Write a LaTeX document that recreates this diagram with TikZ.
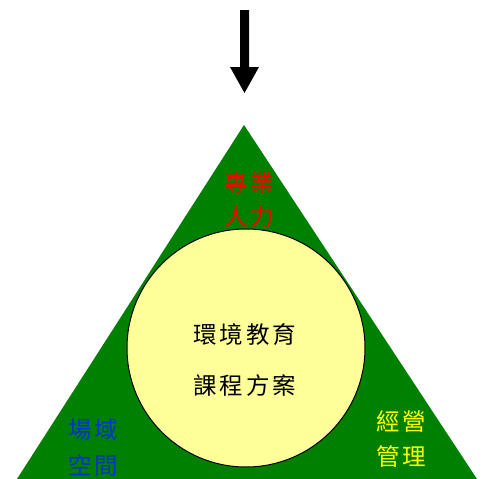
\documentclass[tikz,border=0pt]{standalone}
\usepackage{fontspec}
\newfontfamily\cjk{Noto Sans CJK TC}
\definecolor{tgreen}{RGB}{0,128,0}
\definecolor{cyellow}{RGB}{255,255,153}
\definecolor{tblue}{RGB}{0,51,204}
\definecolor{tred}{RGB}{255,0,0}
\definecolor{tyellow}{RGB}{255,255,0}
\begin{document}
\begin{tikzpicture}[x=1pt,y=-1pt,
  lbl/.style={font=\cjk\fontsize{23.5}{24}\selectfont, inner sep=0pt, align=center}]
\useasboundingbox (0,0) rectangle (483,479);
\fill[white] (0,0) rectangle (483,479);
% triangle
\coordinate (apex) at (244,125);
\coordinate (bl) at (17,479);
\coordinate (br) at (477,479);
\fill[tgreen] (apex) -- (br) -- (bl) -- cycle;
% circle
\node[circle, draw=black, line width=1pt, fill=cyellow, minimum size=238pt, inner sep=0pt] (c) at (246,348) {};
% arrow
\fill[black] (240,10) -- (249,10) -- (249,67) -- (259,67) -- (244.5,93) -- (230,67) -- (240,67) -- cycle;
% labels
\node[lbl, text=tred] (r1) at (249,183) {專\hspace{3pt}業};
\node[lbl, text=tred] (r2) at (249,217) {人\hspace{3pt}力};
\node[lbl, text=tblue] (b1) at (93,430) {場\hspace{3pt}域};
\node[lbl, text=tblue] (b2) at (93,466) {空\hspace{3pt}間};
\node[lbl, text=tyellow] (y1) at (401,422) {經\hspace{3pt}營};
\node[lbl, text=tyellow] (y2) at (401,456) {管\hspace{3pt}理};
\node[lbl, text=black] (m1) at (245,334) {環\hspace{3pt}境\hspace{3pt}教\hspace{3pt}育};
\node[lbl, text=black] (m2) at (245,386) {課\hspace{3pt}程\hspace{3pt}方\hspace{3pt}案};
\end{tikzpicture}
\end{document}
